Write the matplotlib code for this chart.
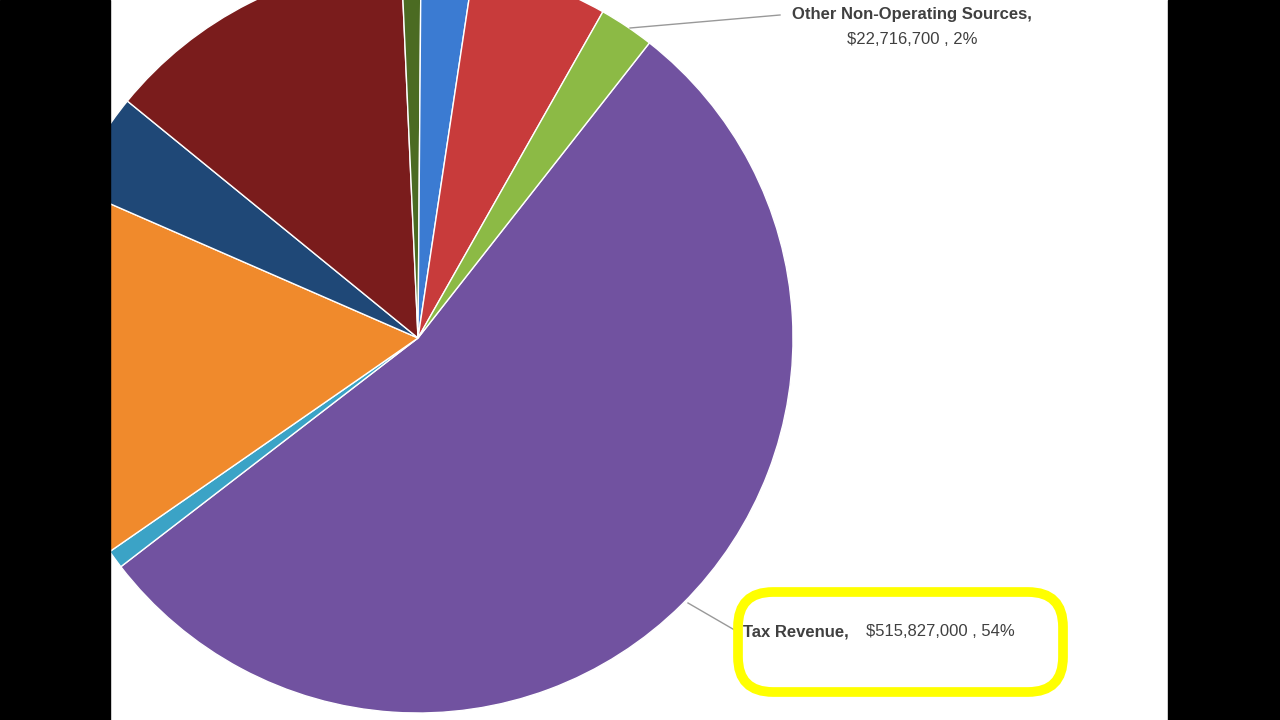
import matplotlib.pyplot as plt
from matplotlib.patches import Rectangle, FancyBboxPatch

# slices in clockwise order, starting with Tax Revenue
categories = ["Tax Revenue", "Other A", "Other B", "Other C", "Other D",
              "Other E", "Other F", "Other G", "Other Non-Operating Sources"]
amounts = [515827000, 7600000, 154700000, 41500000, 128100000,
           8000000, 21500000, 55700000, 22716700]
colors = ["#7152a0", "#3ba3c6", "#f08a2c", "#1f4877", "#7a1c1c",
          "#4b6b22", "#3b7bd2", "#c83b3b", "#8cba45"]

fig = plt.figure(figsize=(12.8, 7.2), dpi=100)
ax = fig.add_axes([0, 0, 1, 1])
ax.set_xlim(0, 1280)
ax.set_ylim(0, 720)
ax.set_aspect("equal")
ax.axis("off")

ax.pie(amounts, colors=colors, startangle=51.9, counterclock=False,
       center=(418, 382), radius=375, frame=True,
       wedgeprops=dict(edgecolor="white", linewidth=1))
ax.set_xlim(0, 1280)
ax.set_ylim(0, 720)
ax.axis("off")

# black side bars of the screenshot
ax.add_patch(Rectangle((0, 0), 110, 720, color="black", zorder=10))
ax.add_patch(Rectangle((1168, 0), 112, 720, color="black", zorder=10))

txt = "#404040"
# Other Non-Operating Sources label
ax.plot([630, 780], [692, 705], color="#999999", lw=1, zorder=5)
ax.text(912, 705, "Other Non-Operating Sources,", ha="center", va="center",
        fontsize=12, fontweight="bold", color=txt, family="Liberation Sans")
ax.text(912, 680, "$22,716,700 , 2%", ha="center", va="center",
        fontsize=12, color=txt, family="Liberation Sans")

# Tax Revenue label
ax.plot([688, 738], [117, 88], color="#999999", lw=1, zorder=5)
t = ax.text(743, 88, "Tax Revenue, ", ha="left", va="center",
            fontsize=12, fontweight="bold", color=txt, family="Liberation Sans")
ax.text(866, 88, "$515,827,000 , 54%", ha="left", va="center",
        fontsize=12, color=txt, family="Liberation Sans")

# hand-drawn yellow highlight
ax.add_patch(FancyBboxPatch((738, 28), 325, 100,
                            boxstyle="round,pad=0,rounding_size=35",
                            fill=False, edgecolor="#ffff00", lw=7, zorder=6))

fig.savefig("out.png", dpi=100)
